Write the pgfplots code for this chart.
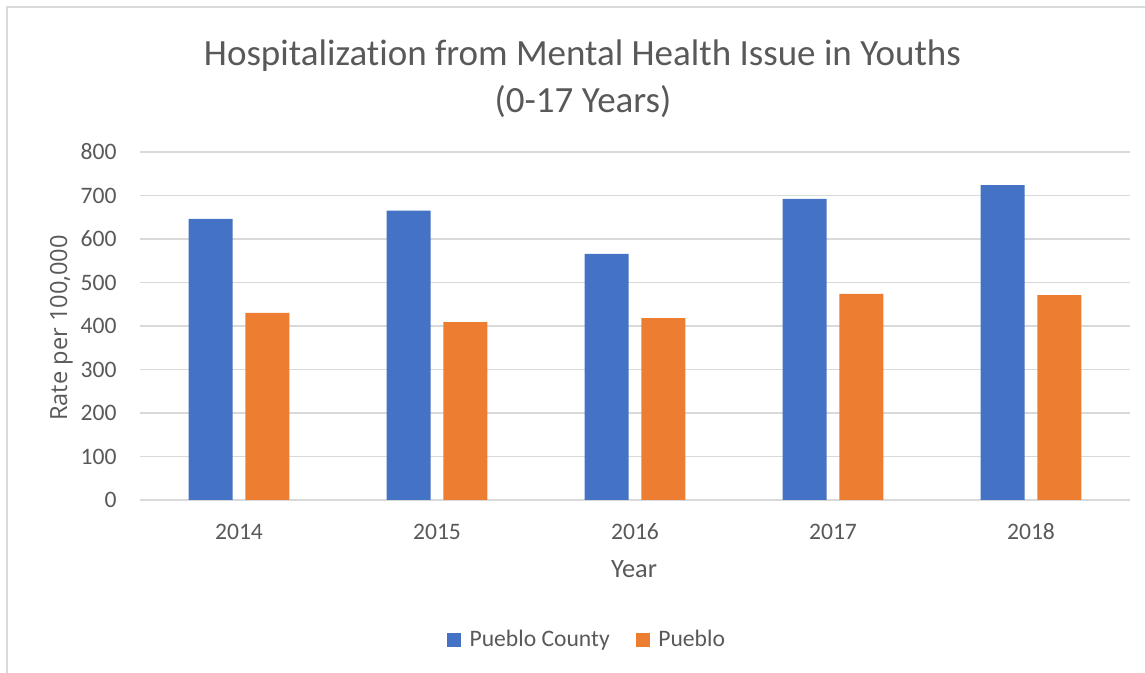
\documentclass[border=0pt]{standalone}
\usepackage{fontspec}
\setmainfont[Ligatures={NoCommon}]{Carlito}
\newfontfamily\ylabfont{Open Sans}
\usepackage{pgfplots}
\pgfplotsset{compat=1.18}
\definecolor{bblue}{HTML}{4472C4}
\definecolor{borange}{HTML}{ED7D31}
\definecolor{txt}{HTML}{595959}
\definecolor{grd}{HTML}{D9D9D9}
\begin{document}
\begin{tikzpicture}
\useasboundingbox (0,0) rectangle (572.5pt,336.5pt);
\draw[grd, line width=0.7pt] (3.4pt,0) -- (3.4pt,332.9pt) -- (572.5pt,332.9pt);
\node[anchor=base, text=txt, font=\fontsize{18.5}{22}\selectfont] at (291.25pt,303.5pt) {Hospitalization from Mental Health Issue in Youths};
\node[anchor=base, text=txt, font=\fontsize{18.5}{22}\selectfont] at (291.5pt,280pt) {(0-17 Years)};
\node[anchor=base, text=txt, font=\fontsize{13.2}{16}\selectfont] at (317pt,47.5pt) {Year};
\node[rotate=90, anchor=base, text=txt, font=\ylabfont\fontsize{11.8}{14}\selectfont] at (33.5pt,172.5pt) {Rate per 100,000};
\begin{axis}[
  at={(70pt,86.5pt)}, anchor=south west,
  scale only axis, width=495pt, height=174pt,
  xmin=-0.5, xmax=4.5, ymin=0, ymax=800,
  ytick={0,100,...,800},
  xtick={0,1,2,3,4},
  xticklabels={2014,2015,2016,2017,2018},
  ymajorgrids, grid style={grd, line width=0.75pt},
  axis line style={draw=none},
  major tick length=0pt,
  /pgf/number format/assume math mode=true,
  ticklabel style={font=\fontsize{11.8}{14}\selectfont, text=txt, inner sep=0pt},
  yticklabel style={anchor=east, xshift=-11.5pt},
  xticklabel style={anchor=north, yshift=-11.7pt},
  legend style={at={(0.4505,-0.402)}, anchor=center, draw=none, fill=none,
    legend columns=-1, font=\fontsize{11.8}{14}\selectfont, text=txt,
    nodes={inner sep=0pt},
    /tikz/every even column/.append style={column sep=13pt}},
  legend image code/.code={\fill[#1] (0pt,-3.5pt) rectangle (7pt,3.5pt); \path (11.3pt,0pt);},
]
\addplot[ybar, bar width=0.222, bar shift=-0.143, fill=bblue, draw=none]
  coordinates {(0,646) (1,665) (2,566) (3,692) (4,724)};
\addlegendentry{Pueblo County}
\addplot[ybar, bar width=0.222, bar shift=0.143, fill=borange, draw=none]
  coordinates {(0,430) (1,409) (2,418) (3,474) (4,471)};
\addlegendentry{Pueblo}
\end{axis}
\end{tikzpicture}
\end{document}
